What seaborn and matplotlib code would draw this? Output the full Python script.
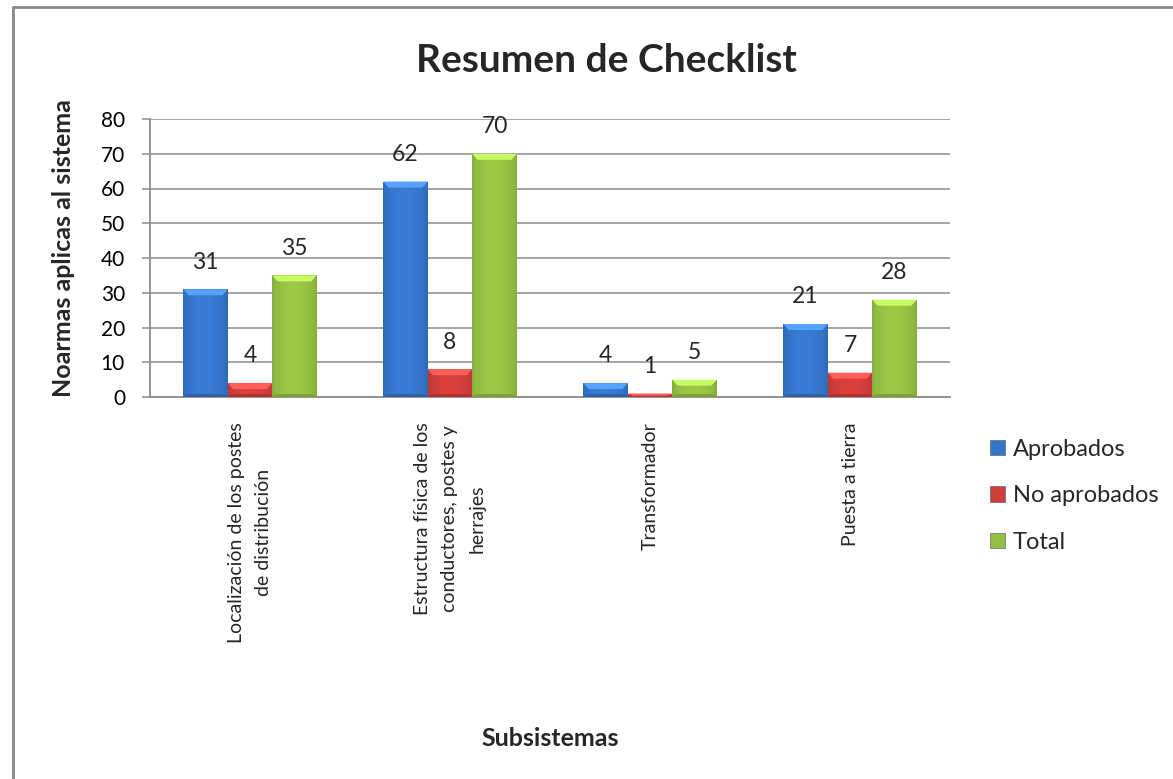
import numpy as np
import pandas as pd
import matplotlib
matplotlib.use("Agg")
import matplotlib.pyplot as plt
import matplotlib.colors as mcolors
from matplotlib.patches import Patch, Polygon
from matplotlib.lines import Line2D
import seaborn as sns

# Data
categorias = [
    "Localización de los postes\nde distribución",
    "Estructura física de los\nconductores, postes y\nherrajes",
    "Transformador",
    "Puesta a tierra",
]
aprobados = [31, 62, 4, 21]
no_aprobados = [4, 8, 1, 7]
total = [35, 70, 5, 28]
series = ["Aprobados", "No aprobados", "Total"]
colores = ["#3574C9", "#CF3C3A", "#93BE42"]

df = pd.DataFrame({
    "Subsistema": categorias * 3,
    "Serie": np.repeat(series, len(categorias)),
    "Valor": aprobados + no_aprobados + total,
})

sns.set_theme(style="white")
plt.rcParams["font.family"] = ["Lato", "DejaVu Sans"]

W, H = 1173, 779
fig = plt.figure(figsize=(W / 100, H / 100), dpi=100)
ax = fig.add_axes([150 / W, 1 - 397 / H, 800 / W, 278 / H])

sns.barplot(data=df, x="Subsistema", y="Valor", hue="Serie", hue_order=series,
            palette=colores, width=0.667, saturation=1, ax=ax, legend=False,
            edgecolor="none", linewidth=0, zorder=3)

ax.set_ylim(0, 80)
ax.set_yticks(range(0, 81, 10))
ax.grid(axis="y", color="#8C8C8C", linewidth=1.1, zorder=0)
ax.set_axisbelow(True)
for s in ["top", "right"]:
    ax.spines[s].set_visible(False)
for s in ["left", "bottom"]:
    ax.spines[s].set_color("#8C8C8C")
    ax.spines[s].set_linewidth(1.3)
ax.tick_params(axis="y", which="both", left=True, length=6, width=1.1,
               color="#8C8C8C", labelsize=15, pad=12, labelcolor="black")
ax.tick_params(axis="x", length=0, pad=18)
ax.set_xticks(range(len(categorias)))
ax.set_xticklabels(categorias, rotation=90, ha="center", va="top",
                   multialignment="center", fontsize=14, linespacing=1.75)

ax.set_ylabel("Noarmas aplicas al sistema", fontsize=18, fontweight="bold")
ax.yaxis.set_label_coords(-0.094, 0.536)
ax.set_xlabel("Subsistemas", fontsize=18, fontweight="bold")
ax.xaxis.set_label_coords(0.5, -1.187)

# Bevelled shading on every bar
fig.canvas.draw()
px_per_unit = ax.bbox.height / 80.0
for cont, col in zip(ax.containers, colores):
    base = np.array(mcolors.to_rgb(col))
    for bar in cont:
        x0, y0 = bar.get_x(), bar.get_y()
        w, h = bar.get_width(), bar.get_height()
        if h <= 0:
            continue
        n = 64
        t = np.linspace(0, 1, n)
        shade = 0.16 * np.sin(np.pi * t) ** 0.6 - 0.10
        img = np.clip(base[None, :] * (1 + shade[:, None]), 0, 1)
        img = img[None, :, :]
        im = ax.imshow(img, extent=[x0, x0 + w, y0, y0 + h], aspect="auto",
                       zorder=3.5, interpolation="bicubic")
        im.set_clip_path(bar)
        bev = min(6 / px_per_unit, h * 0.6)
        dx = w * 0.12
        top = y0 + h
        light = np.clip(base * 1.22 + 0.08, 0, 1)
        ax.add_patch(Polygon([[x0, top], [x0 + w, top], [x0 + w - dx, top - bev],
                              [x0 + dx, top - bev]], closed=True,
                             facecolor=light, edgecolor="none", zorder=3.6))
        bb = min(3 / px_per_unit, h * 0.25)
        ax.add_patch(Polygon([[x0, y0], [x0 + w, y0], [x0 + w - dx * 0.5, y0 + bb],
                              [x0 + dx * 0.5, y0 + bb]], closed=True,
                             facecolor=base * 0.85, edgecolor="none", zorder=3.6))
    ax.bar_label(cont, fmt="%d", padding=12, fontsize=16.5, zorder=5)

ax.set_xlim(-0.5, len(categorias) - 0.5)
ax.set_ylim(0, 80)

handles = [Patch(facecolor=c, edgecolor="#445566", linewidth=0.4) for c in colores]
fig.legend(handles, series, loc="upper left", bbox_to_anchor=(990 / W, 1 - 439 / H),
           frameon=False, fontsize=17, handlelength=0.62, handleheight=0.62,
           handletextpad=0.35, labelspacing=1.07, borderaxespad=0, borderpad=0)

fig.text(606 / W, 1 - 60 / H, "Resumen de Checklist", fontsize=28,
         fontweight="bold", ha="center", va="center")

# Outer frame of the chart area
fig.add_artist(Line2D([13 / W, 13 / W], [0, 1 - 7 / H], transform=fig.transFigure,
                      color="#888888", linewidth=2))
fig.add_artist(Line2D([13 / W, 1], [1 - 7 / H, 1 - 7 / H], transform=fig.transFigure,
                      color="#888888", linewidth=2))

fig.savefig("out.png", dpi=100)
